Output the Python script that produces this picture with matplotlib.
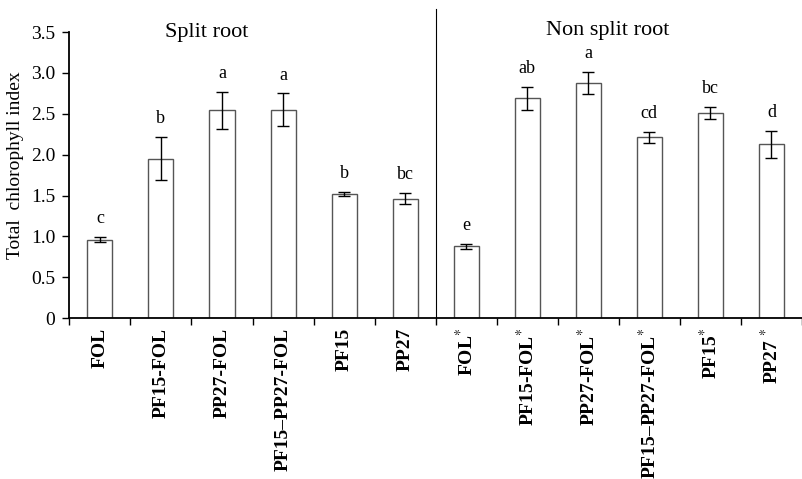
import matplotlib
matplotlib.use("Agg")
import matplotlib.pyplot as plt
import numpy as np

plt.rcParams["font.family"] = ["Liberation Serif", "DejaVu Serif"]
plt.rcParams["mathtext.fontset"] = "stix"

labels = ["FOL", "PF15-FOL", "PP27-FOL", "PF15\u2013PP27-FOL", "PF15", "PP27",
          "FOL$^{*}$", "PF15-FOL$^{*}$", "PP27-FOL$^{*}$", "PF15\u2013PP27-FOL$^{*}$",
          "PF15$^{*}$", "PP27 $^{*}$"]
values = [0.96, 1.95, 2.545, 2.55, 1.52, 1.46,
          0.88, 2.69, 2.88, 2.21, 2.51, 2.13]
errors = [0.035, 0.265, 0.225, 0.2, 0.02, 0.07,
          0.03, 0.14, 0.135, 0.065, 0.075, 0.165]
letters = ["c", "b", "a", "a", "b", "bc",
           "e", "ab", "a", "cd", "bc", "d"]
yticks = [0, 0.5, 1.0, 1.5, 2.0, 2.5, 3.0, 3.5]
ytick_labels = ["0", "0.5", "1.0", "1.5", "2.0", "2.5", "3.0", "3.5"]

fig = plt.figure(figsize=(8.02, 4.79), dpi=100)
ax = fig.add_axes([0.0865, 0.336, 0.9135, 0.597])

x = np.arange(len(values))
ax.bar(x, values, width=0.41, color="white", edgecolor="#555555", linewidth=1.0, zorder=2)
ax.errorbar(x, values, yerr=errors, fmt="none", ecolor="black", elinewidth=1.0,
            capsize=4, capthick=1.0, zorder=3)

for xi, v, e, l in zip(x, values, errors, letters):
    ax.text(xi, v + e + 0.12, l, ha="center", va="bottom", fontsize=13)

# divider between the two groups
ax.plot([5.5, 5.5], [0, 3.78], color="black", lw=0.8, clip_on=False)

ax.text(1.75, 3.5, "Split root", ha="center", va="center", fontsize=16)
ax.text(8.32, 3.52, "Non split root", ha="center", va="center", fontsize=16)

ax.set_xlim(-0.5, 11.45)
ax.set_ylim(0, 3.5)
ax.set_yticks(yticks)
ax.set_yticklabels(ytick_labels, fontsize=14)
ax.set_ylabel("Total  chlorophyll index", fontsize=14)
ax.yaxis.set_label_coords(-0.062, 0.535)

ax.set_xticks(np.arange(-0.5, 12, 1))
ax.set_xticklabels([])
ax.set_xticks(x, minor=True)
ax.set_xticklabels(labels, minor=True, rotation=90, fontsize=14, fontweight="bold",
                   va="top")
ax.tick_params(axis="x", which="major", direction="out", length=5, width=1)
ax.tick_params(axis="x", which="minor", length=0, pad=7)
ax.tick_params(axis="y", direction="out", length=5, width=1, pad=5)

for s in ["top", "right"]:
    ax.spines[s].set_visible(False)
ax.spines["left"].set_linewidth(1.3)
ax.spines["bottom"].set_linewidth(1.3)

fig.savefig("out.png", dpi=100)
